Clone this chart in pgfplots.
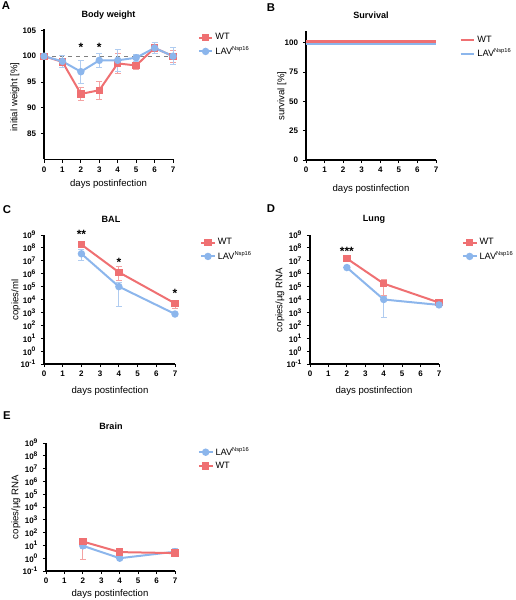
\documentclass[border=0pt]{standalone}
\usepackage{pgfplots}
\pgfplotsset{compat=1.18}
\usepackage{fontspec}
\setmainfont{Liberation Sans}

\definecolor{wtred}{RGB}{239,112,114}
\definecolor{lavblue}{RGB}{140,182,236}
\definecolor{wtbar}{RGB}{244,162,162}
\definecolor{lavbar}{RGB}{176,204,240}

\tikzset{sigstar/.style={font=\bfseries\fontsize{9}{9}\selectfont, inner sep=0pt}}

\pgfplotsset{
  legend image code/.code={%
    \draw[mark repeat=2,mark phase=2,#1] plot coordinates {(0cm,0cm) (0.18cm,0cm) (0.36cm,0cm)};},
  prism/.style={
    scale only axis,
    axis x line*=bottom, axis y line*=left,
    axis line style={black, line width=0.8pt},
    tick align=outside,
    major tick length=2.4pt,
    tick style={black, line width=0.7pt},
    every tick label/.append style={font=\bfseries\fontsize{6}{6}\selectfont, black},
    /pgf/number format/assume math mode=true,
    xmin=0, xmax=7, xtick={0,...,7},
    xticklabel style={yshift=0.5pt},
    clip=false,
    legend style={draw=none, fill=none, font=\fontsize{6.9}{7}\selectfont,
      row sep=0.4pt, inner sep=0pt, anchor=north west,
      nodes={inner sep=1.5pt}},
    legend cell align=left,
  },
  logprism/.style={
    prism, ymin=1e-1, ymax=1e9,
    ytick={1e-1,1e0,1e1,1e2,1e3,1e4,1e5,1e6,1e7,1e8,1e9},
    yticklabels={10\textsuperscript{-1},10\textsuperscript{0},10\textsuperscript{1},
      10\textsuperscript{2},10\textsuperscript{3},10\textsuperscript{4},
      10\textsuperscript{5},10\textsuperscript{6},10\textsuperscript{7},
      10\textsuperscript{8},10\textsuperscript{9}},
    yminorticks=false,
  },
  wt/.style={wtred, line width=1.5pt, mark=square*, mark size=2pt,
    mark options={solid},
    error bars/y dir=both, error bars/y explicit,
    error bars/error bar style={wtbar, line width=0.7pt},
    error bars/error mark options={rotate=90, wtbar, mark size=2.2pt, line width=0.7pt}},
  lav/.style={lavblue, line width=1.5pt, mark=*, mark size=2pt,
    mark options={solid},
    error bars/y dir=both, error bars/y explicit,
    error bars/error bar style={lavbar, line width=0.7pt},
    error bars/error mark options={rotate=90, lavbar, mark size=2.2pt, line width=0.7pt}},
}

\newcommand{\ttl}[1]{\bfseries\fontsize{6.8}{7}\selectfont #1}
\newcommand{\lbl}{\fontsize{7.2}{8}\selectfont}
\newcommand{\lav}{LAV\textsuperscript{\fontsize{4.3}{4}\selectfont Nsp16}}

\begin{document}
\begin{tikzpicture}
\path[use as bounding box] (0pt,0pt) rectangle (387pt,-450pt);

% ---------- A: body weight ----------
\begin{axis}[prism, at={(33pt,-119.6pt)}, anchor=south west,
  width=96.75pt, height=97.6pt,
  ymin=80, ymax=105.2, ytick={85,90,95,100,105},
  legend style={at={(1.19,0.985)}}]
\addplot[gray, dashed, line width=0.6pt, forget plot] coordinates {(0,100) (7,100)};
\addplot[wt] coordinates {
  (0,100.0) +- (0,0.0)
  (1,98.9)  +- (0,0.7)
  (2,92.7)  +- (0,1.3)
  (3,93.4)  +- (0,1.8)
  (4,98.6)  +- (0,1.9)
  (5,98.2)  +- (0,0.7)
  (6,101.6) +- (0,1.1)
  (7,100.0) +- (0,1.2)};
\addlegendentry{WT}
\addplot[lav] coordinates {
  (0,100.0) +- (0,0.0)
  (1,99.0)  +- (0,1.1)
  (2,97.0)  +- (0,2.2)
  (3,99.2)  +- (0,1.3)
  (4,99.2)  +- (0,2.1)
  (5,99.7)  +- (0,0.7)
  (6,101.6) +- (0,1.0)
  (7,100.0) +- (0,1.6)};
\addlegendentry{\lav}
\node[sigstar] at (axis cs:2,101.8) {*};
\node[sigstar] at (axis cs:3,101.8) {*};
\end{axis}

% ---------- B: survival ----------
\begin{axis}[prism, at={(229.5pt,-120pt)}, anchor=south west,
  width=97.5pt, height=96.75pt,
  ymin=0, ymax=110, ytick={0,25,50,75,100},
  legend style={at={(1.18,0.98)}}]
\addplot[wtred, line width=1.6pt] coordinates {(0,101) (7,101)};
\addlegendentry{WT}
\addplot[lavblue, line width=1.6pt] coordinates {(0,99) (7,99)};
\addlegendentry{\lav}
\end{axis}

% ---------- C: BAL ----------
\begin{semilogyaxis}[logprism, at={(33pt,-273pt)}, anchor=south west,
  width=98.25pt, height=96.75pt,
  legend style={at={(1.19,0.99)}}]
\addplot[wt] coordinates {
  (2,1.8e8) += (0,0.6e8) -= (0,0.4e8)
  (4,1.3e6) += (0,2.2e6) -= (0,1.0e6)
  (7,5.0e3) += (0,3.0e3) -= (0,3.0e3)};
\addlegendentry{WT}
\addplot[lav] coordinates {
  (2,3.5e7) += (0,4.0e7) -= (0,2.5e7)
  (4,1.0e5) += (0,1.1e5) -= (0,0.97e5)
  (7,7.5e2) += (0,1.5e2) -= (0,1.5e2)};
\addlegendentry{\lav}
\node[sigstar] at (axis cs:2,1.1e9) {**};
\node[sigstar] at (axis cs:4,8e6) {*};
\node[sigstar] at (axis cs:7,3.0e4) {*};
\end{semilogyaxis}

% ---------- D: lung ----------
\begin{semilogyaxis}[logprism, at={(232.5pt,-273pt)}, anchor=south west,
  width=96.75pt, height=96.75pt,
  legend style={at={(1.175,0.99)}}]
\addplot[wt] coordinates {
  (2,1.5e7) += (0,2.0e6) -= (0,2.0e6)
  (4,1.7e5) += (0,1.7e5) -= (0,1.5e5)
  (7,5.8e3) += (0,1.5e3) -= (0,1.5e3)};
\addlegendentry{WT}
\addplot[lav] coordinates {
  (2,3.0e6) += (0,4.0e5) -= (0,4.0e5)
  (4,1.0e4) += (0,8.0e3) -= (0,9.6e3)
  (7,3.8e3) += (0,6.0e2) -= (0,6.0e2)};
\addlegendentry{\lav}
\node[sigstar] at (axis cs:2,5e7) {***};
\end{semilogyaxis}

% ---------- E: brain ----------
\begin{semilogyaxis}[logprism, at={(34.5pt,-428.25pt)}, anchor=south west,
  width=96.75pt, height=96pt,
  legend style={at={(1.175,0.985)}}]
\addplot[lav] coordinates {
  (2,9.3) += (0,3.0) -= (0,3.0)
  (4,1.0) += (0,0.1) -= (0,0.1)
  (7,3.2) += (0,2.5) -= (0,1.8)};
\addlegendentry{\lav}
\addplot[wt] coordinates {
  (2,20)  += (0,17)  -= (0,19.2)
  (4,3.0) += (0,3.0) -= (0,0.5)
  (7,2.5) += (0,0.8) -= (0,0.8)};
\addlegendentry{WT}
\end{semilogyaxis}

% ---------- panel letters ----------
\begin{scope}[every node/.style={font=\bfseries\fontsize{8.5}{9}\selectfont, inner sep=0pt}]
\node at (4.5pt,-4.5pt) {A};
\node at (203.25pt,-5.6pt) {B};
\node at (5.25pt,-157.1pt) {C};
\node at (203.25pt,-156.75pt) {D};
\node at (5.25pt,-312pt) {E};
\end{scope}

% ---------- titles ----------
\node at (81.4pt,-11.25pt) {\ttl{Body weight}};
\node at (278.25pt,-11.25pt) {\ttl{Survival}};
\node at (83.25pt,-164.25pt) {\ttl{BAL}};
\node at (280.5pt,-164.25pt) {\ttl{Lung}};
\node at (83.25pt,-319.5pt) {\ttl{Brain}};

% ---------- axis labels ----------
\begin{scope}[every node/.style={font=\lbl, inner sep=0pt}]
\node at (81.4pt,-138pt) {days postinfection};
\node at (278.25pt,-141.75pt) {days postinfection};
\node at (82.5pt,-293.25pt) {days postinfection};
\node at (280.5pt,-293.25pt) {days postinfection};
\node at (82.5pt,-445.5pt) {days postinfection};
\node[rotate=90] at (11.25pt,-72.75pt) {initial weight [\%]};
\node[rotate=90] at (211.5pt,-72pt) {survival [\%]};
\node[rotate=90] at (12pt,-225pt) {copies/ml};
\node[rotate=90] at (210pt,-225pt) {copies/µg RNA};
\node[rotate=90] at (12pt,-380.25pt) {copies/µg RNA};
\end{scope}
\end{tikzpicture}
\end{document}
